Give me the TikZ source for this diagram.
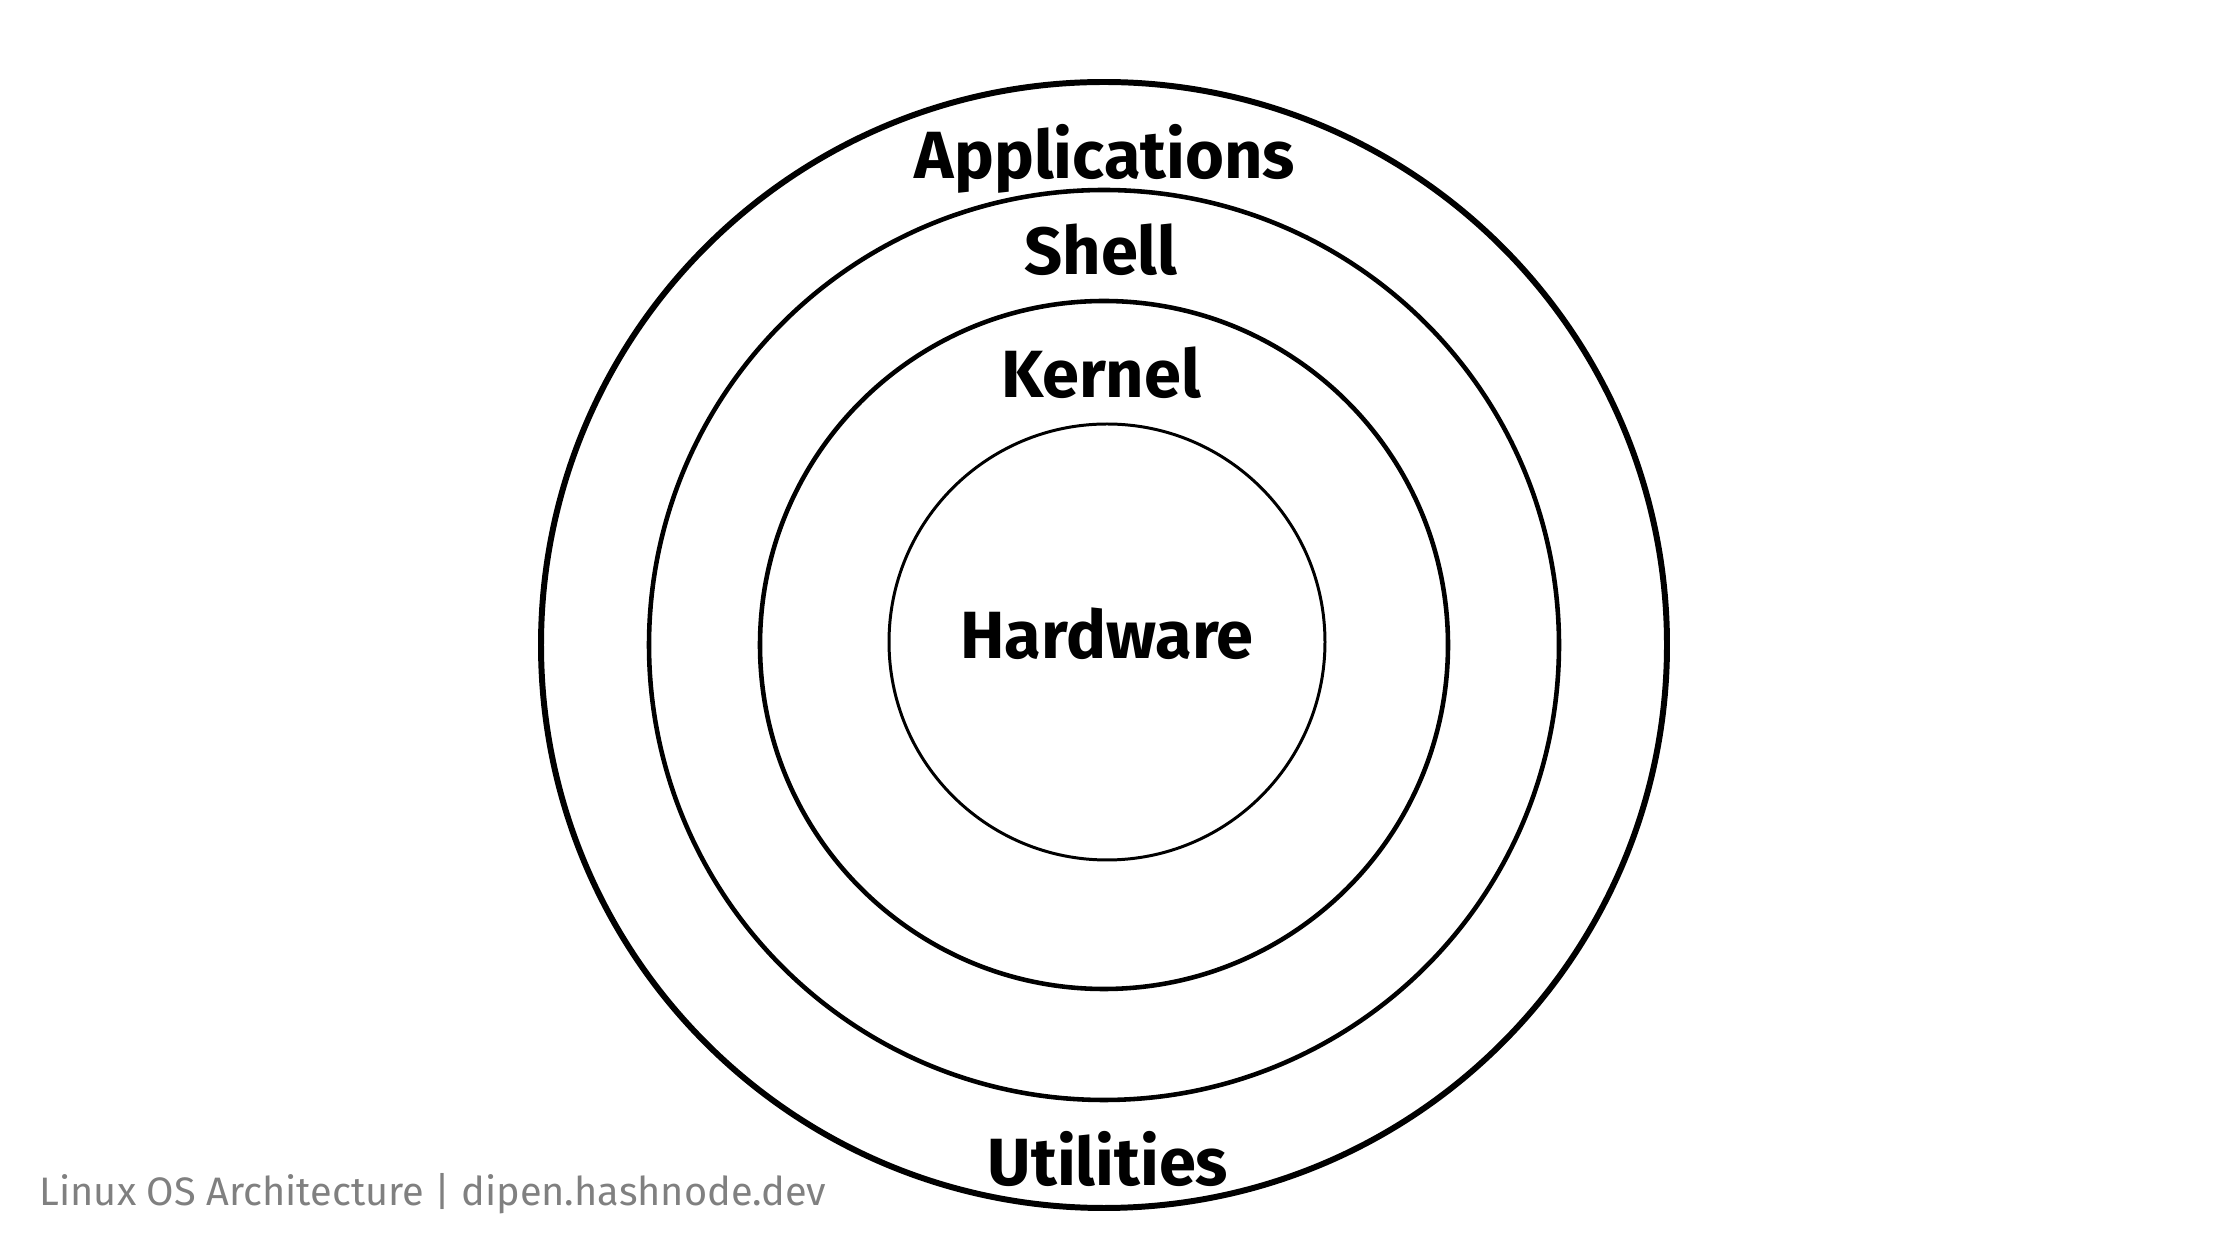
\documentclass[tikz,border=0pt]{standalone}
\usepackage{fontspec}
\setmainfont{Fira Sans}
\usepackage{tikz}
\usetikzlibrary{positioning}
\definecolor{captiongray}{gray}{0.5}
\tikzset{
  ring/.style={draw, circle, inner sep=0pt, line width=#1},
  ring/.default={1.3pt},
  layerlabel/.style={font=\fontsize{19}{22}\selectfont\bfseries, inner sep=0pt},
  caption/.style={font=\fontsize{11.3}{13}\selectfont, text=captiongray, inner sep=0pt, anchor=west}
}
\begin{document}
\begin{tikzpicture}[x=0.1mm, y=0.1mm]
  \useasboundingbox (0,0) rectangle (2240,1260);
  \coordinate (centre) at (1104,615);
  % layers, from outside in
  \node[ring=1.7pt, minimum size=112.6mm] (apps) at (centre) {};
  \node[ring=1.3pt, minimum size=91mm] (shell) at (centre) {};
  \node[ring=1.3pt, minimum size=68.8mm] (kernel) at (centre) {};
  \node[ring=0.85pt, minimum size=43.6mm] (hw) at (1107,618) {};
  % labels
  \node[layerlabel] (appslabel) at (1105,1101) {Applications};
  \node[layerlabel] (shelllabel) at (1101,1010) {Shell};
  \node[layerlabel] (kernellabel) at (1101,887) {Kernel};
  \node[layerlabel] (hwlabel) at (1107,626) {Hardware};
  \node[layerlabel] (utillabel) at (1108,101) {Utilities};
  \node[caption] (credit) at (39,66) {Linux OS Architecture | dipen.hashnode.dev};
\end{tikzpicture}
\end{document}
